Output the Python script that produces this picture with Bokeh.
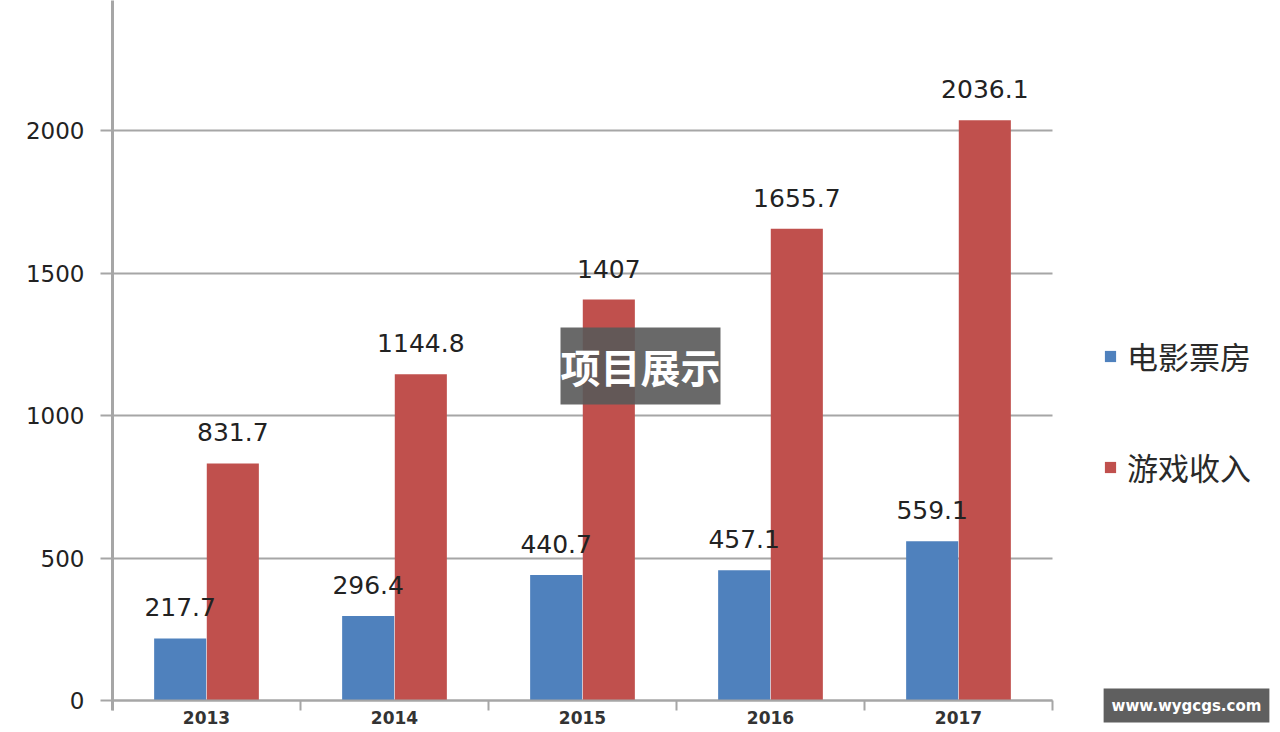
from bokeh.plotting import figure
from bokeh.models import Range1d, FixedTicker, Legend, LegendItem, Label, BoxAnnotation, ColumnDataSource
from bokeh.core.properties import value
from bokeh.embed import file_html
from bokeh.resources import INLINE
import numpy as np

# ---- data ----
years = ["2013", "2014", "2015", "2016", "2017"]
box_office = [217.7, 296.4, 440.7, 457.1, 559.1]
game_revenue = [831.7, 1144.8, 1407, 1655.7, 2036.1]
series_names = ["电影票房", "游戏收入"]
y_ticks = [0, 500, 1000, 1500, 2000, 2500]

# ---- styles / geometry ----
BLUE = "#4F81BD"
RED = "#C0504D"
GRID = "#A6A6A6"
NUM_FONT = "DejaVu Sans"
CJK_FONT = "Noto Sans CJK SC"

W, H = 1278, 730
LEFT = 112
PX_PER_UNIT = 0.285          # pixels per value unit
PX_PER_CAT = 188             # pixels per category
ZERO_Y = 700                 # pixel row of value 0
y_start = -(H - ZERO_Y) / PX_PER_UNIT
y_end = ZERO_Y / PX_PER_UNIT
x_end = (W - LEFT) / PX_PER_CAT

n = len(years)
centers = np.arange(n) + 0.5
off = 0.14
bw = 0.277

p = figure(width=W, height=H, output_backend="svg", toolbar_location=None,
           x_range=Range1d(0, x_end), y_range=Range1d(y_start, y_end),
           min_border_left=LEFT, min_border_right=0, min_border_top=0, min_border_bottom=0)
p.outline_line_color = None
p.background_fill_color = "white"
p.border_fill_color = "white"

src_blue = ColumnDataSource(dict(x=centers - off, top=box_office,
                                 lab=[f"{v:g}" for v in box_office]))
src_red = ColumnDataSource(dict(x=centers + off, top=game_revenue,
                                lab=[f"{v:g}" for v in game_revenue]))

# grid lines limited to the category span
g = p.ygrid[0]
g.ticker = FixedTicker(ticks=y_ticks)
if "cross_bounds" in g.properties():
    g.grid_line_color = GRID
    g.grid_line_width = 2
    g.cross_bounds = (0, n)
else:
    g.grid_line_color = None
    gy = [t for t in y_ticks if 0 < t < y_end]
    p.segment(x0=[0] * len(gy), x1=[n] * len(gy), y0=gy, y1=gy,
              line_color=GRID, line_width=2)
p.xgrid.grid_line_color = None

r1 = p.vbar(x="x", top="top", width=bw, source=src_blue, fill_color=BLUE, line_color=None)
r2 = p.vbar(x="x", top="top", width=bw, source=src_red, fill_color=RED, line_color=None)

for src in (src_blue, src_red):
    p.text(x="x", y="top", text="lab", source=src, text_align="center",
           text_baseline="alphabetic", y_offset=-31, text_font=value(NUM_FONT),
           text_font_size="25px", text_color="#222222")

# y axis
yax = p.yaxis[0]
yax.ticker = FixedTicker(ticks=y_ticks)
yax.bounds = (-35, y_end)
yax.axis_line_color = GRID
yax.axis_line_width = 3
yax.major_tick_line_color = GRID
yax.major_tick_line_width = 2
yax.major_tick_out = 12
yax.major_tick_in = 0
yax.minor_tick_line_color = None
yax.major_label_text_font = NUM_FONT
yax.major_label_text_font_size = "23px"
yax.major_label_text_color = "#222222"
yax.major_label_standoff = 16

# x axis, pinned at value 0
xax = p.xaxis[0]
xax.fixed_location = 0
xax.bounds = (0, n)
xax.ticker = FixedTicker(ticks=list(centers), minor_ticks=list(range(n + 1)))
xax.major_label_overrides = {float(c): y for c, y in zip(centers, years)}
xax.axis_line_color = GRID
xax.axis_line_width = 2
xax.major_tick_line_color = None
xax.major_tick_out = 0
xax.major_tick_in = 0
xax.minor_tick_line_color = GRID
xax.minor_tick_line_width = 2
xax.minor_tick_out = 10
xax.minor_tick_in = 0
xax.major_label_standoff = 0
xax.major_label_text_font = NUM_FONT
xax.major_label_text_font_size = "17px"
xax.major_label_text_font_style = "bold"
xax.major_label_text_color = "#333333"

# legend (location = bottom-left of the legend box, from frame bottom-left)
legend = Legend(items=[LegendItem(label=series_names[0], renderers=[r1]),
                       LegendItem(label=series_names[1], renderers=[r2])],
                location=(991, 241), orientation="vertical",
                glyph_width=14, glyph_height=14, label_height=30,
                label_standoff=10, spacing=66, padding=0, margin=0,
                label_text_font=CJK_FONT, label_text_font_size="31px",
                label_text_color="#2a2a2a", border_line_color=None,
                background_fill_alpha=0)
p.add_layout(legend, "center")

# watermark overlays
p.add_layout(BoxAnnotation(left=(560 - LEFT) / PX_PER_CAT, right=(720 - LEFT) / PX_PER_CAT,
                           bottom=(ZERO_Y - 404) / PX_PER_UNIT, top=(ZERO_Y - 327) / PX_PER_UNIT,
                           fill_color="#595959", fill_alpha=0.9, line_color=None))
p.add_layout(Label(x=(640 - LEFT) / PX_PER_CAT, y=(ZERO_Y - 365) / PX_PER_UNIT, text="项目展示",
                   text_align="center", text_baseline="middle", text_font=CJK_FONT,
                   text_font_size="40px", text_font_style="bold", text_color="white"))
p.add_layout(Label(x=1186 - LEFT, y=H - 705, x_units="screen", y_units="screen",
                   text="www.wygcgs.com", text_align="center", text_baseline="middle",
                   text_font=NUM_FONT, text_font_size="15px", text_font_style="bold",
                   text_color="white", background_fill_color="#5F5F5F",
                   background_fill_alpha=1.0, padding=8))

open("out.html", "w").write(file_html(p, INLINE))
